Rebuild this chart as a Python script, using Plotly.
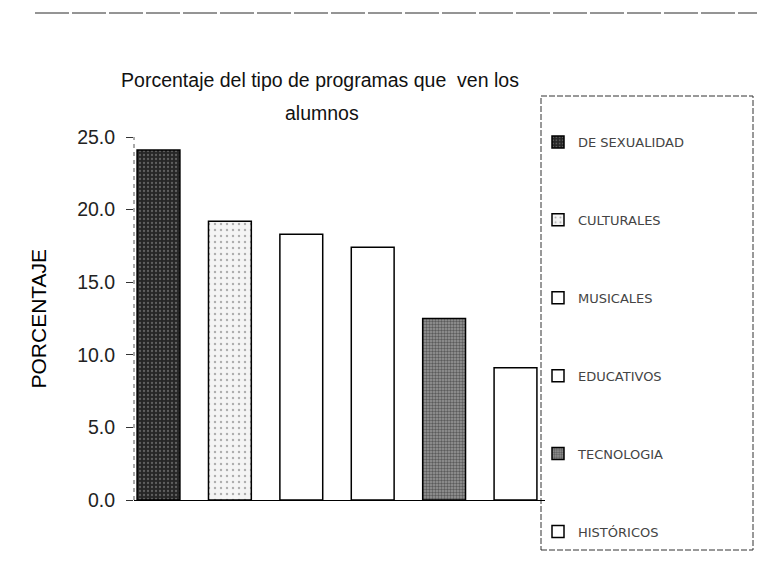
import plotly.graph_objects as go

categories = ["DE SEXUALIDAD", "CULTURALES", "MUSICALES", "EDUCATIVOS", "TECNOLOGIA", "HISTÓRICOS"]
values = [24.1, 19.2, 18.3, 17.4, 12.5, 9.1]
tick_vals = [0, 5, 10, 15, 20, 25]
title_line1 = "Porcentaje del tipo de programas que  ven los"
title_line2 = "alumnos"
y_title = "PORCENTAJE"

W_PX, H_PX = 765, 576
L, R, T, B = 126, 537, 129, 492
c0, step = 150.5, 71.4
r0 = -(c0 - L) / step
r1 = r0 + (R - L) / step

styles = [
    dict(color="#2b2b2b", pattern=dict(shape=".", bgcolor="#262626", fgcolor="#9a9a9a", size=4, solidity=0.25)),
    dict(color="white", pattern=dict(shape=".", bgcolor="#f4f4f4", fgcolor="#666666", size=6, solidity=0.12)),
    dict(color="white"),
    dict(color="white"),
    dict(color="#808080", pattern=dict(shape=".", bgcolor="#999999", fgcolor="#1e1e1e", size=3, solidity=0.5)),
    dict(color="white"),
]

fig = go.Figure()
for i, (cat, val) in enumerate(zip(categories, values)):
    st = styles[i]
    marker = dict(color=st["color"], line=dict(color="black", width=1.5))
    if "pattern" in st:
        marker["pattern"] = st["pattern"]
    fig.add_trace(go.Bar(
        x=[cat], y=[val], name=cat, width=0.6, marker=marker,
        legendgroup=f"g{i}",
    ))

def px_to_paper_x(px):
    return (px - L) / (R - L)

def px_to_paper_y(py):
    return (B - py) / (B - T)

shapes = [
    # legend frame
    dict(type="rect", xref="paper", yref="paper",
         x0=px_to_paper_x(533), x1=px_to_paper_x(745),
         y0=px_to_paper_y(542), y1=px_to_paper_y(88),
         line=dict(color="#333333", width=1, dash="6px,2px"), fillcolor="rgba(0,0,0,0)", layer="below"),
    # top border of chart area
    dict(type="line", xref="paper", yref="paper",
         x0=px_to_paper_x(27), x1=px_to_paper_x(765),
         y0=px_to_paper_y(5), y1=px_to_paper_y(5),
         line=dict(color="#2a2a2a", width=1, dash="34px,3px")),
    # dashed value axis line
    dict(type="line", xref="paper", yref="paper",
         x0=0, x1=0, y0=0, y1=1,
         line=dict(color="#555555", width=1, dash="4px,4px")),
]

annotations = [
    dict(text=title_line2, xref="paper", yref="paper",
         x=px_to_paper_x(314), y=px_to_paper_y(105), xanchor="center", yanchor="middle",
         showarrow=False, font=dict(size=19.5, color="#111111")),
    dict(text=y_title, xref="paper", yref="paper",
         x=px_to_paper_x(30), y=0.5, xanchor="center", yanchor="middle", textangle=-90,
         showarrow=False, font=dict(size=21, color="black")),
]

fig.update_layout(
    width=W_PX, height=H_PX,
    margin=dict(l=L, r=W_PX - R, t=T, b=H_PX - B, pad=0, autoexpand=False),
    paper_bgcolor="white", plot_bgcolor="white",
    barmode="overlay",
    font=dict(family="Arial, Liberation Sans, sans-serif", color="black"),
    title=dict(text=title_line1, x=312 / W_PX, xref="container", xanchor="center",
               y=1 - 65 / H_PX, yref="container", yanchor="top",
               font=dict(size=19.5, color="#111111")),
    xaxis=dict(type="category", categoryarray=categories, range=[r0, r1],
               showticklabels=False, ticks="", showgrid=False, zeroline=False,
               showline=True, linecolor="black", linewidth=1.2),
    yaxis=dict(range=[0, 25], tickvals=tick_vals, tickformat=".1f",
               ticks="outside", ticklen=7, tickcolor="#333333", tickwidth=1,
               showgrid=False, zeroline=False, showline=False,
               tickfont=dict(size=19.5, color="#222222"), ticklabelstandoff=7),
    showlegend=True,
    legend=dict(x=530 / W_PX, xref="container", xanchor="left",
                y=1 - 119 / H_PX, yref="container", yanchor="top",
                bgcolor="rgba(0,0,0,0)", borderwidth=0, maxheight=560,
                font=dict(size=13, color="#444444", family="DejaVu Sans, sans-serif"),
                tracegroupgap=58, itemwidth=30, traceorder="grouped"),
    shapes=shapes,
    annotations=annotations,
)

fig.write_html("out.html")
